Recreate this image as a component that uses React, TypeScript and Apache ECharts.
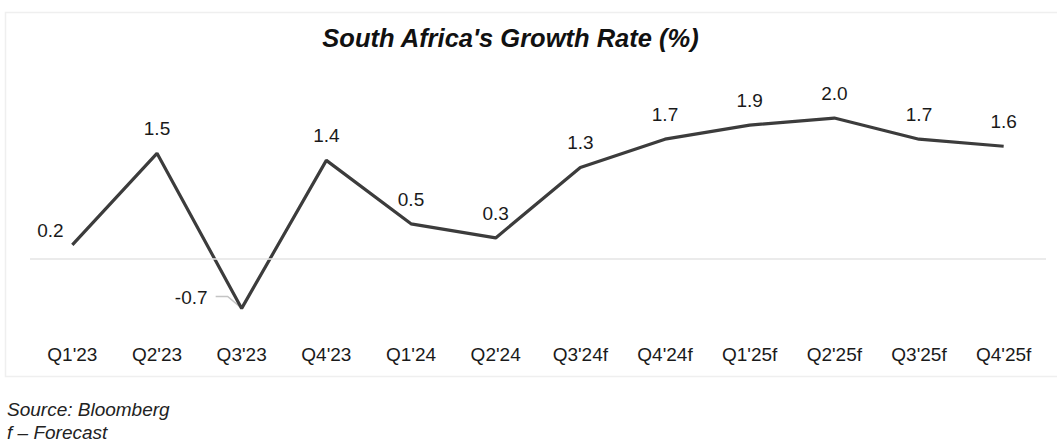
import React, { useEffect, useRef } from "react";
import * as echarts from "echarts";

const categories = ["Q1'23", "Q2'23", "Q3'23", "Q4'23", "Q1'24", "Q2'24", "Q3'24f", "Q4'24f", "Q1'25f", "Q2'25f", "Q3'25f", "Q4'25f"];
const growth = [0.2, 1.5, -0.7, 1.4, 0.5, 0.3, 1.3, 1.7, 1.9, 2.0, 1.7, 1.6];
const titleText = "South Africa's Growth Rate (%)";
const sourceLines = ["Source: Bloomberg", "f \u2013 Forecast"];

const FONT = "'Liberation Sans', Arial, Helvetica, sans-serif";

export default function App() {
  const ref = useRef<HTMLDivElement>(null);
  useEffect(() => {
    if (!ref.current) return;
    const chart = echarts.init(ref.current, null, { renderer: "svg" });
    const data = growth.map((v, i) => {
      if (i === 0) return { value: v, label: { position: "top", offset: [-22, 10] } };
      if (v < 0)
        return {
          value: v,
          label: { position: "left", distance: 34, offset: [0, -11] },
        };
      return { value: v };
    });
    const baseGraphic: any[] = [
      {
        type: "rect",
        shape: { x: 5.5, y: 12.5, width: 1060, height: 364 },
        style: { fill: "none", stroke: "#efefef", lineWidth: 1.5 },
        silent: true,
        z: -1,
      },
      ...sourceLines.map((t, i) => ({
        type: "text",
        left: 7,
        top: 400 + i * 23,
        style: {
          text: t,
          font: "italic 19px 'Liberation Sans', Arial, sans-serif",
          fill: "#222222",
        },
      })),
    ];
    chart.setOption({
      animation: false,
      backgroundColor: "#ffffff",
      title: {
        text: titleText,
        left: 505.5,
        top: 20,
        textAlign: "center",
        textStyle: {
          fontFamily: FONT,
          fontStyle: "italic",
          fontWeight: "bold",
          fontSize: 25.5,
          color: "#111111",
        },
      },
      grid: { left: 30, right: 11, top: 308.4 - 3.2 * 70.5, bottom: 444 - 308.4 },
      xAxis: {
        type: "category",
        data: categories,
        boundaryGap: true,
        axisLine: { show: false },
        axisTick: { show: false },
        axisLabel: {
          margin: 37,
          fontFamily: FONT,
          fontSize: 19,
          color: "#1a1a1a",
        },
      },
      yAxis: {
        type: "value",
        min: -0.7,
        max: 2.5,
        show: false,
      },
      graphic: baseGraphic,
      series: [
        {
          type: "line",
          data,
          symbol: "circle",
          symbolSize: 0.1,
          showSymbol: true,
          itemStyle: { color: "#3c3c3c" },
          lineStyle: { color: "#3c3c3c", width: 3.2 },
          label: {
            show: true,
            position: "top",
            distance: 15,
            formatter: (p: any) => Number(p.value).toFixed(1),
            fontFamily: FONT,
            fontSize: 19,
            color: "#1a1a1a",
          },
          markLine: {
            silent: true,
            symbol: "none",
            label: { show: false },
            lineStyle: { color: "#e4e4e4", width: 1.5, type: "solid" },
            data: [{ yAxis: 0 }],
          },
        },
      ],
    });
    // leader line from the negative value's label to its point, derived from the chart's scales
    const negIdx = growth.findIndex((v) => v < 0);
    if (negIdx >= 0) {
      const pt = chart.convertToPixel({ seriesIndex: 0 }, [negIdx, growth[negIdx]]) as number[];
      if (pt && isFinite(pt[0])) {
        const [px, py] = pt;
        chart.setOption({
          graphic: [
            ...baseGraphic,
            {
              type: "polyline",
              silent: true,
              z: 1,
              shape: {
                points: [
                  [px - 26, py - 12],
                  [px - 14, py - 12],
                  [px - 1, py - 1],
                ],
              },
              style: { stroke: "#c4c4c4", lineWidth: 1.5, fill: "none" },
            },
          ],
        });
      }
    }
    return () => chart.dispose();
  }, []);
  return (
    <div
      ref={ref}
      style={{ position: "fixed", left: 0, top: 0, width: 1057, height: 444 }}
    />
  );
}
